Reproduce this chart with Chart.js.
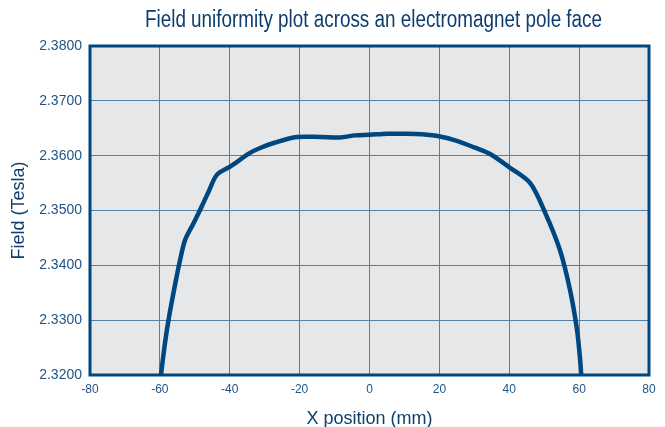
<!DOCTYPE html>
<html>
<head>
<meta charset="utf-8">
<script src="https://cdn.jsdelivr.net/npm/chart.js@4"></script>
<style>
  html, body { margin: 0; padding: 0; background: #fff; }
  #wrap { width: 665px; height: 427px; }
</style>
</head>
<body>
<div id="wrap"><canvas id="chart" width="665" height="427"></canvas></div>
<script>
// Field uniformity across the pole face: x position (mm) vs field (T)
const chartTitle = "Field uniformity plot across an electromagnet pole face";
const xPositions = [-59.7, -58.5, -57.4, -55.8, -54.2, -52.8, -50.5, -48.5, -46.0, -43.7, -39.9, -34.2, -31.3, -27.0, -20.8, -14.0, -8.4, -4.2, 0, 5, 10.2, 15, 20.2, 25, 30, 34.5, 40.2, 46.0, 50.2, 54.5, 57.4, 59.4, 60.3, 60.6];
const fieldValues = [2.3200, 2.3260, 2.3305, 2.3360, 2.3410, 2.3446, 2.3475, 2.3501, 2.3535, 2.3565, 2.3580, 2.3605, 2.3614, 2.3624, 2.3634, 2.3634, 2.3633, 2.3637, 2.3638, 2.3640, 2.3640, 2.3639, 2.3635, 2.3627, 2.3615, 2.3603, 2.3578, 2.3550, 2.3497, 2.3428, 2.3355, 2.3282, 2.3227, 2.3200];

const xTicks = [-80, -60, -40, -20, 0, 20, 40, 60, 80];
const yTicks = [2.32, 2.33, 2.34, 2.35, 2.36, 2.37, 2.38];

const NAVY = "#00477f";
const GRID = "#5580a6";
const TICK = "#1f5383";
const LABEL = "#0f3e6e";

const points = xPositions.map((x, i) => ({ x, y: fieldValues[i] }));

const plotFrame = {
  id: "plotFrame",
  beforeDraw(chart){
    const {ctx, chartArea: a} = chart;
    ctx.save();
    ctx.fillStyle = "#e6e7e9";
    ctx.fillRect(a.left, a.top, a.right - a.left, a.bottom - a.top);
    // condensed title, squeezed horizontally
    ctx.font = "23px 'Liberation Sans', Arial, sans-serif";
    ctx.fillStyle = LABEL;
    ctx.textBaseline = "alphabetic";
    ctx.textAlign = "center";
    const w = ctx.measureText(chartTitle).width;
    const sx = 457 / w;
    ctx.translate((a.left + a.right) / 2 + 4, 27);
    ctx.scale(sx, 1);
    ctx.fillText(chartTitle, 0, 0);
    ctx.restore();
  },
  afterDatasetsDraw(chart){
    const {ctx, chartArea: a} = chart;
    ctx.save();
    ctx.strokeStyle = NAVY;
    ctx.lineWidth = 3;
    ctx.strokeRect(a.left, a.top, a.right - a.left, a.bottom - a.top);
    ctx.restore();
  }
};

new Chart(document.getElementById("chart"), {
  type: "line",
  data: {
    datasets: [{
      data: points,
      borderColor: NAVY,
      borderWidth: 4.5,
      pointRadius: 0,
      tension: 0.3,
      fill: false
    }]
  },
  options: {
    responsive: false,
    animation: false,
    layout: { padding: { right: 16, left: 0, top: 46, bottom: 0 } },
    plugins: {
      legend: { display: false },
      tooltip: { enabled: false },
      title: { display: false }
    },
    scales: {
      x: {
        type: "linear",
        min: -80, max: 80,
        afterBuildTicks: s => { s.ticks = xTicks.map(v => ({ value: v })); },
        afterFit: s => { s.height = 52; },
        ticks: { color: TICK, font: { family: "'Liberation Sans', Arial, sans-serif", size: 12 }, padding: 7, callback: v => String(v) },
        grid: { color: GRID, lineWidth: 1, drawTicks: false },
        border: { display: false },
        title: {
          display: true, text: "X position (mm)", color: LABEL,
          font: { family: "'Liberation Sans', Arial, sans-serif", size: 18 },
          padding: { top: 4, bottom: -3 }
        }
      },
      y: {
        type: "linear",
        min: 2.32, max: 2.38,
        afterBuildTicks: s => { s.ticks = yTicks.map(v => ({ value: v })); },
        afterFit: s => { s.width = 90; },
        ticks: { color: TICK, font: { family: "'Liberation Sans', Arial, sans-serif", size: 14 }, padding: 8, callback: v => Number(v).toFixed(4) },
        grid: { color: GRID, lineWidth: 1, drawTicks: false },
        border: { display: false },
        title: {
          display: true, text: "Field (Tesla)", color: LABEL,
          font: { family: "'Liberation Sans', Arial, sans-serif", size: 18 },
          padding: { top: 8, bottom: 0 }
        }
      }
    }
  },
  plugins: [plotFrame]
});
</script>
</body>
</html>
